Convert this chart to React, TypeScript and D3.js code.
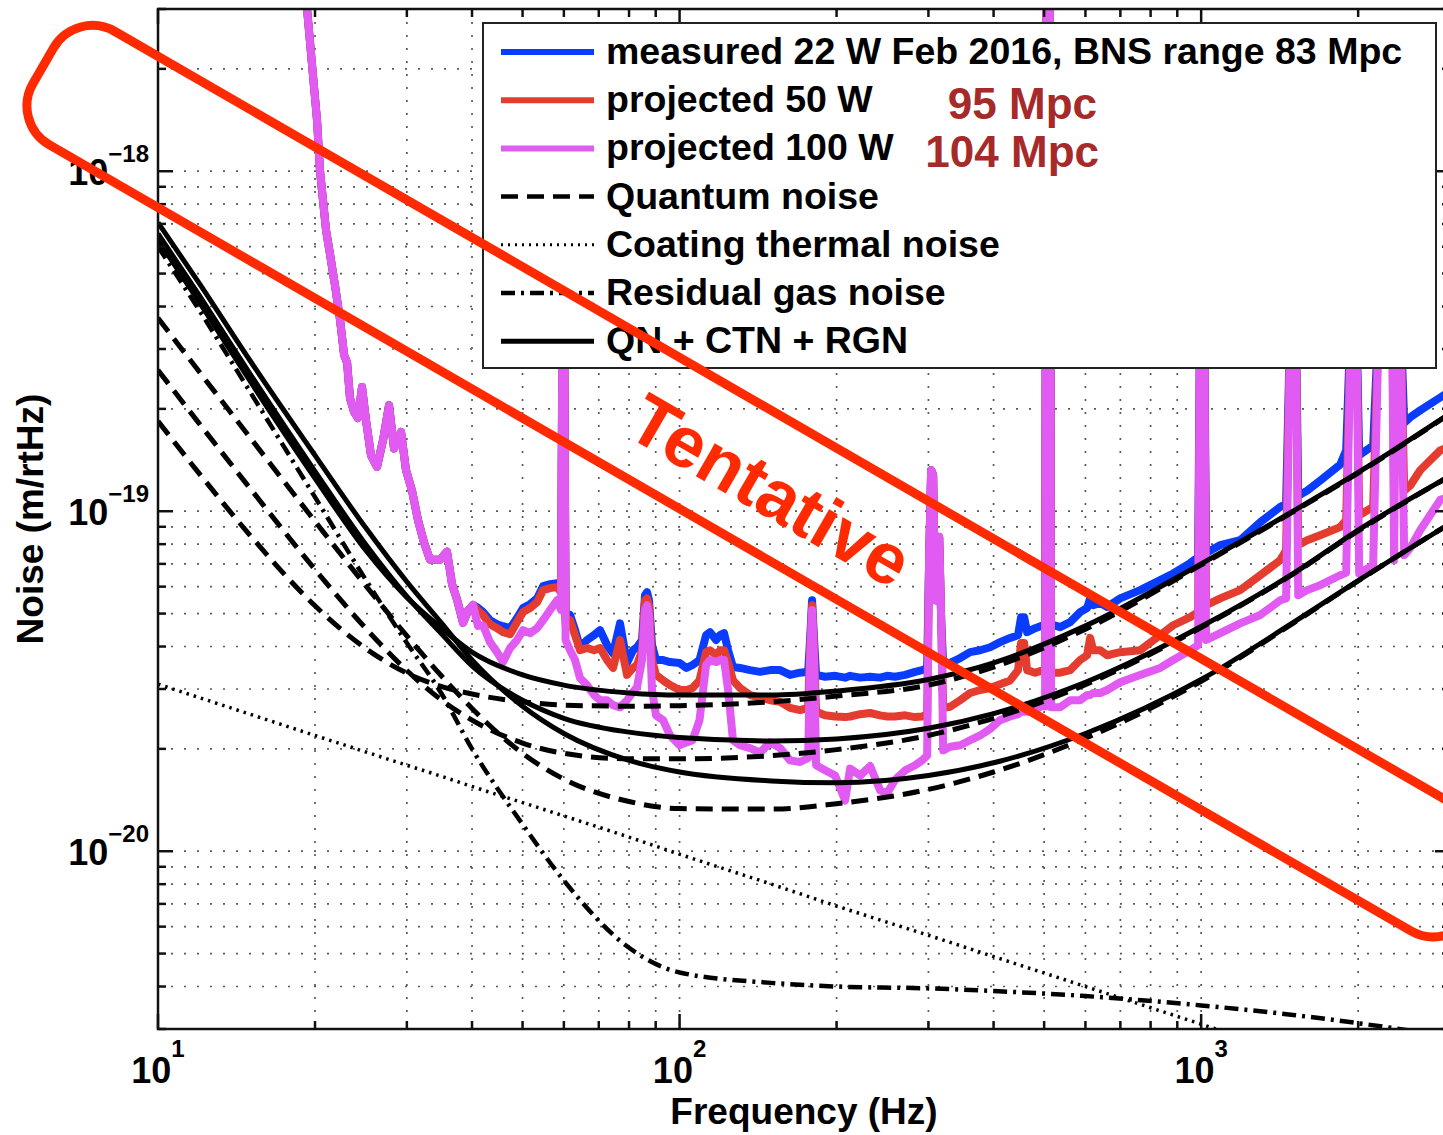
import React from 'react';
import * as d3 from 'd3';

// all amplitudes below are in units of 1e-20 m/rtHz
const UNIT = 1e-20;

// noise budget curves
const modelFreq = [10, 12, 15, 20, 25, 30, 35, 40, 50, 60, 80, 100, 150, 200, 300, 400, 600, 1000, 1500, 2000, 3000];
const quantum22 = [18.4, 12.9, 8.51, 5.27, 3.95, 3.34, 3.05, 2.9, 2.75, 2.69, 2.67, 2.68, 2.75, 2.86, 3.08, 3.48, 4.5, 6.95, 9.95, 12.95, 19.35];
const quantum50 = [26.0, 18.1, 11.7, 6.74, 4.53, 3.4, 2.78, 2.43, 2.08, 1.94, 1.87, 1.87, 1.91, 1.99, 2.19, 2.46, 3.09, 4.55, 6.53, 8.75, 12.7];
const quantum100 = [37.0, 25.7, 16.5, 9.34, 6.05, 4.3, 3.27, 2.63, 1.94, 1.63, 1.4, 1.335, 1.33, 1.38, 1.52, 1.71, 2.15, 3.16, 4.68, 6.24, 9.2];
const coatingThermal = [3.1, 2.83, 2.53, 2.19, 1.96, 1.79, 1.66, 1.55, 1.39, 1.27, 1.1, 0.98, 0.8, 0.69, 0.566, 0.49, 0.4, 0.31, 0.253, 0.219, 0.179];
const residualGas = [60, 39, 22.5, 11.0, 6.3, 4.1, 2.9, 2.0, 1.2, 0.82, 0.52, 0.44, 0.41, 0.4, 0.395, 0.388, 0.375, 0.352, 0.33, 0.312, 0.285];
const total22 = [62.8, 41.2, 24.2, 12.5, 7.69, 5.58, 4.52, 3.85, 3.3, 3.08, 2.92, 2.88, 2.88, 2.96, 3.2, 3.58, 4.6, 7.0, 10.0, 13.0, 19.4];
const total50 = [65.5, 43.1, 25.4, 13.1, 8.0, 5.62, 4.35, 3.51, 2.78, 2.46, 2.24, 2.16, 2.11, 2.14, 2.3, 2.54, 3.14, 4.58, 6.55, 8.8, 12.7];
const total100 = [70.6, 46.8, 27.8, 14.6, 8.95, 6.2, 4.68, 3.65, 2.67, 2.22, 1.85, 1.71, 1.61, 1.59, 1.67, 1.82, 2.22, 3.2, 4.7, 6.25, 9.2];

// measured / projected spectra: below ~41 Hz the three traces sit on top of each other
const lowFreq = [18.56, 18.97, 19.31, 20.18, 20.45, 21.0, 21.37, 21.85, 22.34, 22.74, 23.04, 23.34, 23.76, 24.18, 24.61, 25.05, 25.61, 26.3, 27.01, 27.73, 28.35, 29.24, 29.89, 30.69, 31.52, 32.36, 33.23, 34.73, 35.82, 36.62, 37.44, 38.45, 39.3, 40.18];
const lowLevel = [800, 400, 300, 141, 100, 67, 57, 46, 36.5, 28.8, 27.4, 21.5, 19.6, 18.8, 23.2, 18.5, 14.6, 13.5, 16.2, 20.5, 15.3, 17.1, 13.2, 11.5, 9.4, 8.1, 7.2, 7.2, 7.6, 6.1, 5.5, 4.7, 5.1, 5.3];

const highFreq = [
  41.06, 42.0, 43.3, 44.67, 45.87, 47.32, 48.8, 50.11, 51.68, 53.31,
  54.74, 56.46, 58.22, 59.27, 59.66, 60.06, 60.46, 61.66, 63.04, 64.44,
  66.46, 68.55, 70.4, 72.61, 74.54, 76.88, 79.3, 81.43, 82.88, 84.73,
  85.85, 86.62, 87.38, 88.55, 90.13, 92.98, 95.89, 100, 103.1, 105.9,
  109.2, 112.4, 114.4, 117.5, 119.6, 121.7, 123.9, 126.6, 130.6, 136.5,
  142.7, 149.1, 155.9, 162.9, 170.2, 176.4, 177.9, 179.5, 181.1, 182.7,
  190.1, 198.7, 207.7, 212.3, 221.9, 231.9, 242.4, 250, 258.9, 270.7,
  282.9, 291.7, 298.3, 300.9, 303.6, 306.3, 309, 311.8, 314.6, 317.4,
  320.2, 330.2, 345.1, 360.6, 376.9, 393.9, 411.7, 430.2, 445.6, 451.6,
  457.7, 463.8, 480.6, 497.7, 502.1, 505.4, 512.2, 515.6, 536.6, 560.9,
  586.1, 604.5, 612.6, 620.8, 640.4, 660.5, 699.5, 763.8, 834.5, 883.8,
  952.8, 986.8, 995.6, 1013, 1022, 1088, 1188, 1298, 1418, 1455,
  1484, 1518, 1535, 1597, 1691, 1847, 1897, 1939, 1983, 2009,
  2137, 2194, 2323, 2344, 2366, 2408, 2451, 2517, 2630, 2873,
  3029,
];
const measured22 = [
  5.2, 5.05, 4.78, 4.65, 4.59, 4.53, 4.85, 5.19, 5.33, 5.54,
  6.02, 6.1, 6.14, 5.94, 45, 45, 4.78, 4.95, 4.47, 3.98,
  4.18, 4.32, 4.47, 4.04, 3.82, 4.68, 3.58, 3.9, 3.98, 4.18,
  5.66, 5.78, 5.47, 4.04, 3.65, 3.65, 3.6, 3.58, 3.46, 3.53,
  3.65, 4.32, 4.41, 4.18, 4.32, 4.38, 3.9, 3.48, 3.46, 3.41,
  3.37, 3.41, 3.41, 3.3, 3.35, 3.37, 4.18, 5.47, 4.18, 3.3,
  3.26, 3.28, 3.24, 3.28, 3.24, 3.26, 3.24, 3.28, 3.26, 3.3,
  3.37, 3.41, 3.46, 7.18, 13.2, 12.8, 5.47, 8.22, 8.4, 4.78,
  3.53, 3.58, 3.7, 3.85, 3.9, 3.98, 4.12, 4.24, 4.32, 4.88,
  4.88, 4.41, 4.53, 4.62, 4.65, 800, 800, 4.65, 4.56, 4.72,
  5.05, 5.19, 5.54, 5.29, 5.37, 5.23, 5.54, 5.86, 6.27, 6.56,
  7.04, 7.33, 40, 40, 7.53, 7.95, 8.22, 9.28, 10.3, 10.5,
  40, 40, 11.1, 11.5, 12.3, 13.7, 15.1, 40, 40, 14.6,
  15.6, 40, 40, 17.3, 40, 40, 18.2, 18.9, 19.8, 21.6,
  22.7,
];
const projected50 = [
  5.1, 4.95, 4.65, 4.53, 4.41, 4.35, 4.72, 5.05, 5.19, 5.4,
  5.86, 5.94, 5.98, 5.78, 45, 45, 4.65, 4.78, 4.32, 3.9,
  3.96, 3.9, 3.96, 3.65, 3.46, 4.18, 3.3, 3.46, 3.53, 3.9,
  5.47, 5.54, 5.26, 3.65, 3.3, 3.18, 3.08, 2.98, 2.98, 3.02,
  3.18, 3.85, 3.9, 3.77, 3.9, 3.9, 3.58, 3.18, 3.02, 2.88,
  2.83, 2.78, 2.75, 2.64, 2.6, 2.64, 3.9, 5.29, 3.9, 2.57,
  2.51, 2.49, 2.48, 2.49, 2.53, 2.55, 2.51, 2.49, 2.49, 2.51,
  2.48, 2.49, 2.53, 7.18, 13.2, 12.8, 5.47, 8.22, 8.4, 4.78,
  2.64, 2.66, 2.78, 2.92, 2.98, 3.02, 3.1, 3.18, 3.41, 4.1,
  4.1, 3.41, 3.35, 3.41, 3.37, 800, 800, 3.35, 3.35, 3.41,
  3.65, 3.77, 4.24, 3.9, 3.9, 3.77, 3.85, 3.9, 4.32, 4.62,
  4.88, 5.05, 40, 40, 5.29, 5.54, 5.86, 6.48, 7.18, 7.68,
  40, 40, 7.95, 8.22, 8.5, 8.98, 9.41, 40, 40, 9.73,
  10.3, 40, 40, 11.1, 40, 40, 11.5, 11.9, 13.2, 15.1,
  15.6,
];
const projected100 = [
  4.6, 4.62, 4.12, 3.85, 3.6, 3.96, 4.18, 4.47, 4.38, 4.53,
  4.78, 5.12, 5.47, 5.12, 45, 45, 4.18, 3.9, 3.65, 3.23,
  3.08, 2.88, 2.78, 2.78, 2.69, 2.65, 2.78, 2.94, 3.04, 3.65,
  5.12, 5.29, 4.95, 2.98, 2.51, 2.43, 2.19, 2.05, 2.09, 2.12,
  2.43, 3.53, 3.65, 3.6, 3.65, 3.65, 2.98, 2.12, 2.05, 2.01,
  1.95, 2.09, 2.01, 1.85, 1.83, 1.88, 3.65, 5.12, 3.65, 1.79,
  1.73, 1.67, 1.41, 1.75, 1.67, 1.78, 1.51, 1.48, 1.62, 1.73,
  1.79, 1.85, 1.91, 7.18, 13.2, 12.8, 5.47, 8.22, 8.4, 4.78,
  1.98, 2.03, 2.05, 2.12, 2.19, 2.29, 2.43, 2.49, 2.53, 2.57,
  2.57, 2.57, 2.6, 2.69, 2.67, 800, 800, 2.65, 2.65, 2.78,
  2.78, 2.88, 2.88, 2.92, 2.92, 2.98, 3.14, 3.3, 3.46, 3.65,
  3.9, 4.04, 40, 40, 4.18, 4.38, 4.68, 4.95, 5.47, 5.54,
  40, 40, 5.66, 5.86, 6.06, 6.48, 6.6, 40, 40, 6.56,
  6.94, 40, 40, 7.18, 40, 40, 7.43, 7.8, 8.79, 10.8,
  11.1,
];

const xTicks = [10, 100, 1000];
const xTickExp = ['1', '2', '3'];
const yTicks = [1e-20, 1e-19, 1e-18];
const yTickExp = ['\u221220', '\u221219', '\u221218'];

const legendLabels = [
  'measured 22 W Feb 2016, BNS range 83 Mpc',
  'projected 50 W',
  'projected 100 W',
  'Quantum noise',
  'Coating thermal noise',
  'Residual gas noise',
  'QN + CTN + RGN',
];
const rangeNotes = ['95 Mpc', '104 Mpc'];

const BLUE = '#0a3cff';
const RED = '#e53c30';
const PINK = '#e15af2';
const FONT = '"Liberation Sans", Arial, Helvetica, sans-serif';

const left = 158, right = 1450, top = 9, bottom = 1029;

const x = d3.scaleLog().domain([10, 3000]).range([left, right]);
const y = d3.scaleLog().domain([3e-21, 3e-18]).range([bottom, top]);

type Pt = [number, number];
const zip = (f: number[], v: number[]): Pt[] => f.map((d, i) => [d, v[i]]);

const smooth = d3.line<Pt>().x(d => x(d[0])).y(d => y(d[1] * UNIT)).curve(d3.curveMonotoneX);
const rough = d3.line<Pt>().x(d => x(d[0])).y(d => y(d[1] * UNIT));

const allFreq = lowFreq.concat(highFreq);

const styles = {
  quantum: { dash: '17,9', width: 5 },
  ctn: { dash: '2.5,5', width: 3.5 },
  rgn: { dash: '14,6,3,6', width: 4.5 },
  total: { dash: undefined as string | undefined, width: 5 },
};

function gridValues(dom: [number, number], decades: number[]) {
  const out: { v: number; major: boolean }[] = [];
  decades.forEach(dec => {
    for (let k = 1; k <= 9; k++) {
      const v = k * dec;
      if (v >= dom[0] * 0.999 && v <= dom[1] * 1.001) out.push({ v, major: k === 1 });
    }
  });
  return out;
}

export default function App() {
  const xGrid = gridValues([10, 3000], [10, 100, 1000]);
  const yGrid = gridValues([3e-21, 3e-18], [1e-21, 1e-20, 1e-19, 1e-18]);

  const traces = [
    { data: zip(allFreq, lowLevel.concat(measured22)), color: BLUE },
    { data: zip(allFreq, lowLevel.concat(projected50)), color: RED },
    { data: zip(allFreq, lowLevel.concat(projected100)), color: PINK },
  ];

  const models = [
    { v: coatingThermal, s: styles.ctn },
    { v: residualGas, s: styles.rgn },
    { v: quantum22, s: styles.quantum },
    { v: quantum50, s: styles.quantum },
    { v: quantum100, s: styles.quantum },
    { v: total22, s: styles.total },
    { v: total50, s: styles.total },
    { v: total100, s: styles.total },
  ];

  const legendStyles = [
    { color: BLUE, dash: undefined, width: 6 },
    { color: RED, dash: undefined, width: 6 },
    { color: PINK, dash: undefined, width: 6 },
    { color: '#000', dash: '17,9', width: 4.5 },
    { color: '#000', dash: '2,5', width: 3 },
    { color: '#000', dash: '14,6,3,6', width: 4.5 },
    { color: '#000', dash: undefined, width: 5 },
  ];

  return (
    <svg width={1443} height={1135} style={{ position: 'absolute', left: 0, top: 0, background: '#fff' }}
      fontFamily={FONT}>
      <defs>
        <clipPath id="plot">
          <rect x={left} y={top} width={right - left} height={bottom - top} />
        </clipPath>
      </defs>
      <rect x={0} y={0} width={1443} height={1135} fill="#fff" />

      {/* dotted grid */}
      <g stroke="#5a5a5a" strokeWidth={1.7} strokeDasharray="2,11">
        {xGrid.map((g, i) => (
          <line key={'gx' + i} x1={x(g.v)} x2={x(g.v)} y1={top} y2={bottom} />
        ))}
        {yGrid.map((g, i) => (
          <line key={'gy' + i} x1={left} x2={right} y1={y(g.v)} y2={y(g.v)} />
        ))}
      </g>

      <g clipPath="url(#plot)" fill="none" strokeLinejoin="round">
        {traces.map((t, i) => (
          <path key={'t' + i} d={rough(t.data) || ''} stroke={t.color} strokeWidth={8} />
        ))}
        {models.map((m, i) => (
          <path key={'m' + i} d={smooth(zip(modelFreq, m.v)) || ''} stroke="#000"
            strokeWidth={m.s.width} strokeDasharray={m.s.dash} />
        ))}
      </g>

      {/* axes box and ticks */}
      <g stroke="#111" strokeWidth={2.5} fill="none">
        <rect x={left} y={top} width={right - left} height={bottom - top} />
        {xGrid.map((g, i) => {
          const len = g.major ? 15 : 8;
          return (
            <g key={'tx' + i}>
              <line x1={x(g.v)} x2={x(g.v)} y1={bottom} y2={bottom - len} />
              <line x1={x(g.v)} x2={x(g.v)} y1={top} y2={top + len} />
            </g>
          );
        })}
        {yGrid.map((g, i) => {
          const len = g.major ? 15 : 8;
          return (
            <g key={'ty' + i}>
              <line x1={left} x2={left + len} y1={y(g.v)} y2={y(g.v)} />
              <line x1={right} x2={right - len} y1={y(g.v)} y2={y(g.v)} />
            </g>
          );
        })}
      </g>

      {/* tick labels */}
      <g fill="#000" fontWeight="bold">
        {xTicks.map((t, i) => (
          <text key={'xl' + i} x={x(t)} y={1083} textAnchor="middle">
            <tspan fontSize={36}>10</tspan>
            <tspan fontSize={24} dy={-26}>{xTickExp[i]}</tspan>
          </text>
        ))}
        {yTicks.map((t, i) => (
          <text key={'yl' + i} x={149} y={y(t) + 14} textAnchor="end">
            <tspan fontSize={36}>10</tspan>
            <tspan fontSize={24} dy={-23}>{yTickExp[i]}</tspan>
          </text>
        ))}
      </g>

      {/* axis titles */}
      <text x={804} y={1124} textAnchor="middle" fontSize={37} fontWeight="bold">Frequency (Hz)</text>
      <text transform="translate(43,519) rotate(-90)" textAnchor="middle" fontSize={37} fontWeight="bold">Noise (m/rtHz)</text>

      {/* legend */}
      <g>
        <rect x={483} y={23} width={953} height={345} fill="#fff" stroke="#222" strokeWidth={2} />
        {legendLabels.map((lab, i) => {
          const ly = 52 + i * 48.2;
          const st = legendStyles[i];
          return (
            <g key={'lg' + i}>
              <line x1={501} x2={594} y1={ly} y2={ly} stroke={st.color} strokeWidth={st.width}
                strokeDasharray={st.dash} />
              <text x={606} y={ly + 12} fontSize={37.5} fontWeight="bold" fill="#000">{lab}</text>
            </g>
          );
        })}
        <text x={1097} y={119} textAnchor="end" fontSize={44} fontWeight="bold" fill="#a62a2a">{rangeNotes[0]}</text>
        <text x={1099} y={167} textAnchor="end" fontSize={44} fontWeight="bold" fill="#a62a2a">{rangeNotes[1]}</text>
      </g>

      {/* tentative stamp */}
      <g transform="translate(76,9) rotate(30)">
        <rect x={0} y={0} width={1662} height={131} rx={45} ry={45} fill="none" stroke="#ff2a00" strokeWidth={9} />
      </g>
      <text transform="translate(758,512) rotate(30)" textAnchor="middle" fontSize={72} fontWeight="bold"
        fill="#ff2a00">Tentative</text>
    </svg>
  );
}
